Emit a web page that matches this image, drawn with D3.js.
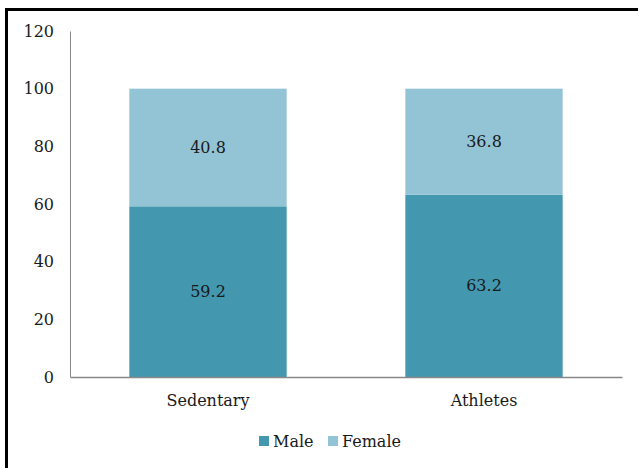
<!DOCTYPE html>
<html>
<head>
<meta charset="utf-8">
<script src="https://cdn.jsdelivr.net/npm/d3@7"></script>
<style>
  html, body { margin: 0; padding: 0; background: #fff; }
  svg { display: block; }
  text { font-family: "DejaVu Serif", "Liberation Serif", serif; fill: #1a1a1a; }
</style>
</head>
<body>
<script>
// Share of males and females (%) per group
const categories = ["Sedentary", "Athletes"];
const seriesNames = ["Male", "Female"];
const maleValues = [59.2, 63.2];
const femaleValues = [40.8, 36.8];
const yTicks = [0, 20, 40, 60, 80, 100, 120];
const seriesColors = ["#4398b0", "#93c4d5"];

const W = 638, H = 468;
const margin = { left: 70, right: 16, top: 31, bottom: 91 };

const svg = d3.select("body").append("svg")
  .attr("width", W).attr("height", H);

// outer frame
svg.append("rect")
  .attr("x", 6.5).attr("y", 9.5)
  .attr("width", W + 20).attr("height", H + 20)
  .attr("fill", "none").attr("stroke", "#000").attr("stroke-width", 3);

const x = d3.scaleBand()
  .domain(categories)
  .range([margin.left, W - margin.right])
  .paddingInner(0.43).paddingOuter(0.215);

const y = d3.scaleLinear()
  .domain([0, 120])
  .range([H - margin.bottom, margin.top]);

const rows = categories.map((c, i) => ({ category: c, Male: maleValues[i], Female: femaleValues[i] }));
const stacked = d3.stack().keys(seriesNames)(rows);

const layers = svg.append("g").selectAll("g")
  .data(stacked).join("g")
  .attr("fill", (d, i) => seriesColors[i]);

layers.selectAll("rect")
  .data(d => d.map(p => ({ p, key: d.key })))
  .join("rect")
  .attr("x", d => x(d.p.data.category))
  .attr("width", x.bandwidth())
  .attr("y", d => y(d.p[1]))
  .attr("height", d => y(d.p[0]) - y(d.p[1]));

// value labels centred in each segment
layers.selectAll("text")
  .data(d => d.map(p => ({ p, key: d.key })))
  .join("text")
  .attr("x", d => x(d.p.data.category) + x.bandwidth() / 2)
  .attr("y", d => y((d.p[0] + d.p[1]) / 2))
  .attr("dy", "0.35em")
  .attr("text-anchor", "middle")
  .attr("font-size", 16)
  .text(d => d.p.data[d.key].toFixed(1));

// y axis
const yAxis = svg.append("g")
  .attr("transform", `translate(${margin.left},0)`)
  .call(d3.axisLeft(y).tickValues(yTicks).tickSize(0).tickPadding(16));
yAxis.select(".domain").attr("stroke", "#888").attr("stroke-width", 1);
yAxis.selectAll("text").attr("font-size", 16).attr("font-family", "DejaVu Serif").attr("fill", "#1a1a1a");

// x axis
const xAxis = svg.append("g")
  .attr("transform", `translate(0,${H - margin.bottom})`)
  .call(d3.axisBottom(x).tickSize(0).tickPadding(18));
xAxis.select(".domain").attr("stroke", "#888").attr("stroke-width", 1.5);
xAxis.selectAll("text").attr("font-size", 16).attr("font-family", "DejaVu Serif").attr("fill", "#1a1a1a");

// legend
const legend = svg.append("g").attr("transform", "translate(259,441)");
const legendX = [0, 69];
seriesNames.forEach((name, i) => {
  const g = legend.append("g").attr("transform", `translate(${legendX[i]},0)`);
  g.append("rect").attr("x", 0).attr("y", -5).attr("width", 10).attr("height", 10)
    .attr("fill", seriesColors[i]);
  g.append("text").attr("x", 14).attr("y", 0).attr("dy", "0.35em")
    .attr("font-size", 16).text(name);
});
</script>
</body>
</html>
